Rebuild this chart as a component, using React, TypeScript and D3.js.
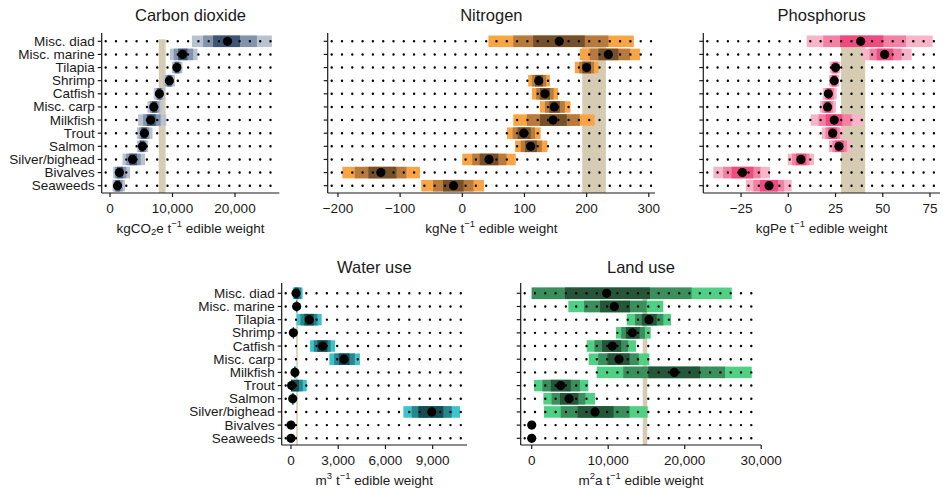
import * as d3 from "d3";

const categories = [
  "Misc. diad",
  "Misc. marine",
  "Tilapia",
  "Shrimp",
  "Catfish",
  "Misc. carp",
  "Milkfish",
  "Trout",
  "Salmon",
  "Silver/bighead",
  "Bivalves",
  "Seaweeds",
];

// Carbon dioxide (kgCO2e per t edible weight)
const co2Median = [18800, 11600, 10700, 9500, 7900, 7000, 6500, 5500, 5200, 3600, 1500, 1200];
const co2Outer = [[13100, 25900], [9600, 14000], [9900, 11600], [8500, 10400], [7000, 8800], [6000, 8400], [4500, 9000], [4300, 6800], [4300, 6100], [2000, 5600], [500, 3200], [400, 2400]];
const co2Mid = [[14900, 23500], [10200, 13300], [10200, 11300], [8900, 10000], [7400, 8400], [6400, 7900], [5300, 8100], [4700, 6300], [4600, 5800], [2600, 4900], [800, 2600], [700, 2000]];
const co2Inner = [[16500, 20800], [10900, 12400], [10400, 11000], [9200, 9800], [7600, 8200], [6700, 7500], [5900, 7300], [5000, 5900], [4800, 5500], [3100, 4300], [1100, 2100], [900, 1600]];
const co2Band = [7800, 8900];
const co2Ticks = [0, 10000, 20000];

// Nitrogen (kgNe per t)
const nMedian = [156, 235, 200, 123, 133, 148, 146, 99, 110, 43, -131, -14];
const nOuter = [[42, 276], [189, 286], [181, 219], [106, 141], [112, 154], [125, 174], [82, 213], [72, 126], [85, 137], [0, 86], [-193, -68], [-66, 35]];
const nMid = [[82, 235], [205, 270], [188, 212], [112, 135], [119, 147], [133, 165], [104, 189], [81, 117], [94, 128], [16, 71], [-173, -90], [-47, 18]];
const nInner = [[114, 197], [219, 251], [193, 207], [117, 130], [125, 141], [140, 157], [125, 168], [89, 110], [101, 120], [28, 58], [-151, -106], [-31, 2]];
const nBand = [193, 231];
const nTicks = [-200, -100, 0, 100, 200, 300];

// Phosphorus (kgPe per t)
const pMedian = [38.3, 51, 25, 24.3, 21.2, 20.8, 24.3, 23.5, 26.8, 6.7, -24.3, -10.2];
const pOuter = [[9.7, 76.4], [38.8, 65.3], [22, 27.5], [21.5, 27], [18.2, 25.6], [16.8, 25.2], [11.8, 39.4], [17.7, 29.1], [21.5, 33], [-0.3, 13.6], [-39.7, -9.7], [-22.5, 1.8]];
const pMid = [[18.5, 62.3], [43, 60], [23, 26.5], [22.5, 26], [19.4, 24.2], [18, 23.8], [16, 33.5], [19.6, 27.3], [23.3, 31], [2, 11.2], [-34.5, -14.7], [-18.5, -2.2]];
const pInner = [[27.4, 50.3], [46.8, 55.5], [23.8, 26], [23.2, 25.4], [20.3, 22.8], [19.2, 22.5], [19.8, 28.6], [21.2, 25.8], [24.8, 29.3], [4, 9.5], [-30, -18.5], [-15, -5.5]];
const pBand = [27.9, 40.7];
const pTicks = [-25, 0, 25, 50, 75];

// Water use (m3 per t)
const wMedian = [320, 360, 1160, 150, 2010, 3370, 250, 40, 110, 8940, 0, 0];
const wOuter = [[110, 740], [300, 420], [360, 1950], [100, 200], [1210, 2800], [2440, 4380], [180, 320], [0, 1000], [50, 200], [7140, 10740], [0, 0], [0, 0]];
const wMid = [[180, 640], [320, 400], [600, 1680], [120, 180], [1450, 2520], [2750, 4050], [200, 300], [0, 750], [70, 170], [7670, 10210], [0, 0], [0, 0]];
const wInner = [[240, 480], [340, 380], [850, 1450], [130, 170], [1680, 2320], [3040, 3720], [220, 280], [0, 500], [90, 130], [8090, 9680], [0, 0], [0, 0]];
const wBand = [330, 430];
const wTicks = [0, 3000, 6000, 9000];

// Land use (m2a per t)
const lMedian = [9800, 10800, 15330, 13150, 10540, 11410, 18640, 3790, 4880, 8280, 0, 0];
const lOuter = [[0, 26150], [4790, 17200], [12420, 18210], [11020, 15560], [7190, 13630], [7450, 15370], [8500, 28760], [300, 7400], [1520, 8280], [1610, 15160], [0, 0], [0, 0]];
const lMid = [[0, 20900], [6840, 15030], [13500, 17200], [11700, 14800], [8200, 12600], [8700, 14000], [11970, 25270], [1400, 6300], [2600, 7000], [3800, 12800], [0, 0], [0, 0]];
const lInner = [[4350, 15460], [8930, 12850], [14380, 16340], [12300, 14100], [9200, 11700], [9900, 12800], [15240, 22000], [2500, 5100], [3700, 6100], [6000, 10700], [0, 0], [0, 0]];
const lBand = [14510, 15110];
const lTicks = [0, 10000, 20000, 30000];

const FONT = "'Liberation Sans', Arial, Helvetica, sans-serif";
const INK = "#1a1a1a";

function Panel({ cfg }) {
  const { domain, range, top, bottom, axisY, yTop, colors } = cfg;
  const x = d3.scaleLinear().domain(domain).range(range);
  const y = d3.scalePoint().domain(categories).range([top, bottom]);
  const [x0, x1] = range;
  const barH = 11.5;
  const fmt = d3.format(",");
  const layers = [
    [cfg.outer, colors[0]],
    [cfg.mid, colors[1]],
    [cfg.inner, colors[2]],
  ];

  return (
    <g>
      <text x={(x0 + x1) / 2} y={cfg.titleY} textAnchor="middle" dominantBaseline="central" fontSize={16.5} fill={INK}>
        {cfg.title}
      </text>

      {/* reference band */}
      <rect x={x(cfg.band[0])} width={x(cfg.band[1]) - x(cfg.band[0])} y={top - 2} height={axisY - top + 2} fill="#d6ccb4" />

      {/* uncertainty bars */}
      {layers.map(([arr, col], li) =>
        arr.map((d, i) =>
          d[1] > d[0] ? (
            <rect key={`${li}-${i}`} x={x(d[0])} width={x(d[1]) - x(d[0])} y={y(categories[i]) - barH / 2} height={barH} fill={col} />
          ) : null
        )
      )}

      {/* dotted guide lines */}
      {categories.map((c) => (
        <line key={c} x1={x0 + 4} x2={x1} y1={y(c)} y2={y(c)} stroke="#000" strokeWidth={2.4} strokeLinecap="round" strokeDasharray="0 10.3" />
      ))}

      {cfg.median.map((m, i) => (
        <circle key={i} cx={x(m)} cy={y(categories[i])} r={4.6} fill="#000" />
      ))}

      {/* y axis */}
      <line x1={x0} x2={x0} y1={yTop} y2={axisY} stroke={INK} strokeWidth={1.2} />
      {categories.map((c) => (
        <g key={c}>
          <line x1={x0 - 4} x2={x0} y1={y(c)} y2={y(c)} stroke={INK} strokeWidth={1.2} />
          {cfg.showLabels && (
            <text x={x0 - 7} y={y(c)} textAnchor="end" dominantBaseline="central" fontSize={13.5} fill={INK}>
              {c}
            </text>
          )}
        </g>
      ))}

      {/* x axis */}
      <line x1={x0} x2={x1} y1={axisY} y2={axisY} stroke={INK} strokeWidth={1.2} />
      {cfg.ticks.map((t) => (
        <g key={t}>
          <line x1={x(t)} x2={x(t)} y1={axisY} y2={axisY + 4} stroke={INK} strokeWidth={1.2} />
          <text x={x(t)} y={axisY + 15} textAnchor="middle" dominantBaseline="central" fontSize={13.5} fill={INK}>
            {fmt(t)}
          </text>
        </g>
      ))}
      <text x={(x0 + x1) / 2} y={axisY + 35} textAnchor="middle" dominantBaseline="central" fontSize={13.5} fill={INK}>
        {cfg.unit}
      </text>
    </g>
  );
}

const sub = (s) => (
  <tspan fontSize={9.5} dy={3}>
    {s}
  </tspan>
);
const sup = (s) => (
  <tspan fontSize={9.5} dy={-5}>
    {s}
  </tspan>
);

export default function App() {
  const topRows = { top: 41.3, bottom: 185.7, axisY: 193, yTop: 33, titleY: 15 };
  const botRows = { top: 293.3, bottom: 438.3, axisY: 445, yTop: 283, titleY: 267 };

  const panels = [
    {
      ...topRows,
      title: "Carbon dioxide",
      showLabels: true,
      domain: [-1330, 27090],
      range: [101.7, 279.3],
      median: co2Median,
      outer: co2Outer,
      mid: co2Mid,
      inner: co2Inner,
      band: co2Band,
      ticks: co2Ticks,
      colors: ["#b8c2d1", "#8493ac", "#3f5576"],
      unit: (
        <>
          kgCO{sub("2")}
          <tspan dy={-3}>e t</tspan>
          {sup("−1")}
          <tspan dy={5}> edible weight</tspan>
        </>
      ),
    },
    {
      ...topRows,
      title: "Nitrogen",
      domain: [-216.5, 310],
      range: [327.7, 655],
      median: nMedian,
      outer: nOuter,
      mid: nMid,
      inner: nInner,
      band: nBand,
      ticks: nTicks,
      colors: ["#f9a545", "#b97a3e", "#74502b"],
      unit: (
        <>
          kgNe t{sup("−1")}
          <tspan dy={5}> edible weight</tspan>
        </>
      ),
    },
    {
      ...topRows,
      title: "Phosphorus",
      domain: [-45, 80.3],
      range: [703.3, 940],
      median: pMedian,
      outer: pOuter,
      mid: pMid,
      inner: pInner,
      band: pBand,
      ticks: pTicks,
      colors: ["#f8b5ca", "#f480a4", "#ee4b81"],
      unit: (
        <>
          kgPe t{sup("−1")}
          <tspan dy={5}> edible weight</tspan>
        </>
      ),
    },
    {
      ...botRows,
      title: "Water use",
      showLabels: true,
      domain: [-590, 11180],
      range: [281.7, 467],
      median: wMedian,
      outer: wOuter,
      mid: wMid,
      inner: wInner,
      band: wBand,
      ticks: wTicks,
      colors: ["#3dc3cd", "#27878f", "#184c52"],
      unit: (
        <>
          m{sup("3")}
          <tspan dy={5}> t</tspan>
          {sup("−1")}
          <tspan dy={5}> edible weight</tspan>
        </>
      ),
    },
    {
      ...botRows,
      title: "Land use",
      domain: [-1440, 30000],
      range: [520.7, 761.2],
      median: lMedian,
      outer: lOuter,
      mid: lMid,
      inner: lInner,
      band: lBand,
      ticks: lTicks,
      colors: ["#50d084", "#3a8f5c", "#25563a"],
      unit: (
        <>
          m{sup("2")}
          <tspan dy={5}>a t</tspan>
          {sup("−1")}
          <tspan dy={5}> edible weight</tspan>
        </>
      ),
    },
  ];

  return (
    <svg width={943} height={488} style={{ position: "absolute", left: 0, top: 0, background: "#fff" }} fontFamily={FONT}>
      {panels.map((p) => (
        <Panel key={p.title} cfg={p} />
      ))}
    </svg>
  );
}
